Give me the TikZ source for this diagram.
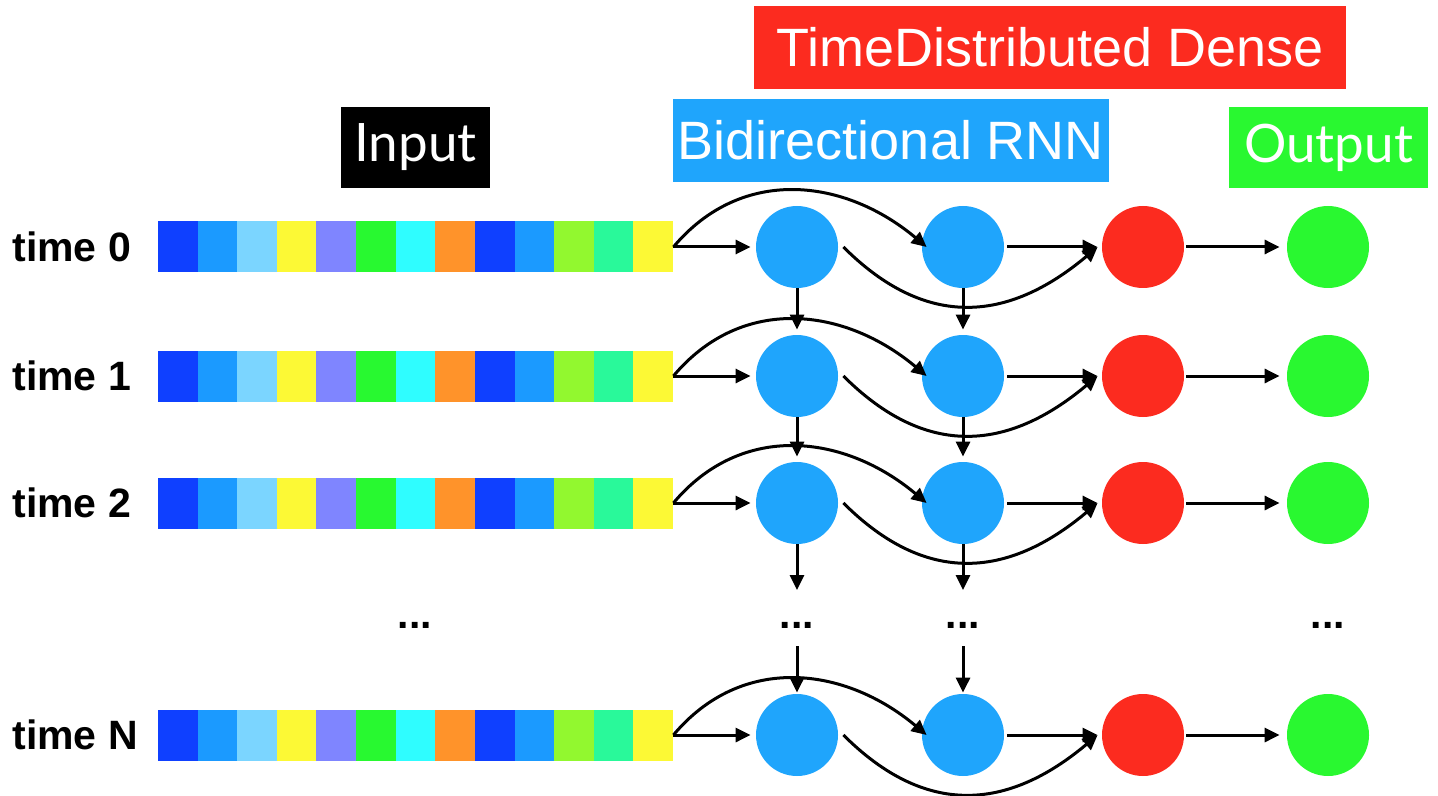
\documentclass[tikz,border=0pt]{standalone}
\usepackage{fontspec}
\setmainfont{Liberation Sans}
\newfontfamily\latofont{Lato}
\usetikzlibrary{arrows.meta,calc}
\definecolor{cA}{HTML}{0F40FF}
\definecolor{cB}{HTML}{1B9AFF}
\definecolor{cC}{HTML}{7BD5FF}
\definecolor{cD}{HTML}{FCF935}
\definecolor{cE}{HTML}{7F85FF}
\definecolor{cF}{HTML}{28F930}
\definecolor{cG}{HTML}{2FFDFF}
\definecolor{cH}{HTML}{FF932A}
\definecolor{cK}{HTML}{92F82F}
\definecolor{cL}{HTML}{29F99A}
\definecolor{bl}{HTML}{1FA5FC}
\definecolor{rd}{HTML}{FC2B1F}
\definecolor{gr}{HTML}{29F830}
\begin{document}
\begin{tikzpicture}[x=0.5pt,y=0.5pt,
  arr/.style={line width=1.5pt,-{Triangle[length=7.5pt,width=7pt]}},
  ball/.style={circle,minimum size=41pt,inner sep=0pt,draw=none},
  lbl/.style={inner sep=0pt,font=\fontsize{20.5}{21}\selectfont\bfseries},
  strip/.style={rectangle,minimum width=257.5pt,minimum height=25.5pt,inner sep=0pt},
  hdr/.style={inner sep=0pt,text=white,font=\fontsize{27}{28}\selectfont},
  hdrb/.style={inner sep=0pt,text=white,font=\latofont\fontsize{26.5}{27}\selectfont}]
\useasboundingbox (0,0) rectangle (1438,-796);
% headers
\node[hdr,fill=rd,minimum width=296pt,minimum height=41.5pt] (hTD) at (1050,-47.5) {TimeDistributed Dense};
\node[hdr,fill=bl,minimum width=218pt,minimum height=41.5pt] (hBR) at (891,-140.5) {Bidirectional RNN};
\node[hdrb,fill=black,minimum width=74.5pt,minimum height=40.5pt] (hIn) at (415.5,-147.5) {Input};
\node[hdrb,fill=gr,minimum width=99.5pt,minimum height=40.5pt] (hOut) at (1328.5,-147.5) {Output};
% rows
\foreach \r/\y/\lab in {0/247/time 0,1/376/time 1,2/503/time 2,N/735/time N}{
  \node[lbl,anchor=west] (t\r) at (12,-\y) {\lab};
  \node[strip] (s\r) at (415.5,-\y) {};
  \foreach \c [count=\i from 0] in {cA,cB,cC,cD,cE,cF,cG,cH,cA,cB,cK,cL,cD}
    \fill[\c] ({158+\i*39.615},{-\y-25.5}) rectangle ++(39.8,51);
  \node[ball,fill=bl] (a\r) at (797,-\y) {};
  \node[ball,fill=bl] (b\r) at (963,-\y) {};
  \node[ball,fill=rd] (r\r) at (1143,-\y) {};
  \node[ball,fill=gr] (g\r) at (1328,-\y) {};
  \draw[arr,shorten >=2.5pt] (s\r.east) -- (a\r);
  \draw[arr] (s\r.east) to[out=50,in=140,looseness=1.08] ($(b\r.west)+(5,0)$);
  \draw[arr] ($(a\r.east)+(5,0)$) to[out=-45,in=-140,looseness=1.18] ($(r\r.west)+(-4,0)$);
  \draw[arr,shorten <=1.5pt,shorten >=2pt] (b\r) -- (r\r);
  \draw[arr,shorten <=1pt,shorten >=3.5pt] (r\r) -- (g\r);
}
% vertical arrows
\draw[arr,shorten >=2.5pt] (a0) -- (a1);
\draw[arr,shorten >=2.5pt] (b0) -- (b1);
\draw[arr,shorten >=2.5pt] (a1) -- (a2);
\draw[arr,shorten >=2.5pt] (b1) -- (b2);
\coordinate (da1) at (797,-590);
\coordinate (da2) at (797,-646);
\coordinate (db1) at (963,-590);
\coordinate (db2) at (963,-646);
\draw[arr] (a2) -- (da1);
\draw[arr] (b2) -- (db1);
\draw[arr,shorten >=0.5pt] (da2) -- (aN);
\draw[arr,shorten >=0.5pt] (db2) -- (bN);
% dots
\foreach \n/\x in {ds/415,d1/797,d2/963,dg/1328}
  \node[lbl,anchor=base] (\n) at (\x,-628) {...};
\end{tikzpicture}
\end{document}
